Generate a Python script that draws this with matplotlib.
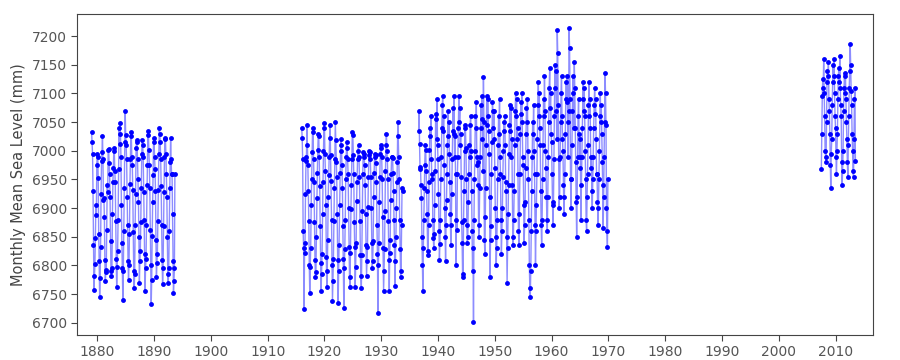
import matplotlib
matplotlib.use("Agg")
import matplotlib.pyplot as plt
import numpy as np

# Monthly mean sea level (mm), four record segments with gaps between them.
seg1_start = 1879.0   # Jan 1879
seg1 = [
    7033, 7015, 6995, 6930, 6835, 6758, 6782, 6802, 6848, 6905, 6888, 6975,
    6995, 6990, 6952, 6855, 6808, 6745, 6778, 6832, 6925, 6982, 6998, 7025,
    6985, 6915, 6918, 6885, 6810, 6772, 6788, 6792, 6862, 6940, 6928, 7002,
    7004, 6978, 6960, 6920, 6842, 6790, 6782, 6795, 6890, 6945, 6970, 7005,
    7000, 6965, 6945, 6878, 6812, 6762, 6798, 6825, 6880, 6968, 7040, 7012,
    7048, 7030, 6990, 6905, 6840, 6795, 6740, 6790, 6860, 6935, 7015, 7070,
    7028, 7010, 6985, 6920, 6870, 6808, 6775, 6800, 6855, 6942, 6985, 7032,
    7025, 6990, 6975, 6932, 6858, 6790, 6760, 6785, 6870, 6925, 7005, 7015,
    7018, 6985, 6950, 6910, 6850, 6770, 6808, 6826, 6875, 6935, 6995, 7018,
    7010, 6990, 6928, 6880, 6820, 6755, 6795, 6812, 6870, 6940, 6975, 7035,
    7028, 7002, 6975, 6935, 6862, 6800, 6733, 6775, 6852, 6910, 6958, 7022,
    7015, 6990, 6968, 6930, 6845, 6780, 6805, 6820, 6878, 6932, 6995, 7040,
    7030, 7015, 6985, 6938, 6870, 6810, 6768, 6795, 6868, 6928, 6990, 7022,
    7020, 6995, 6960, 6920, 6850, 6785, 6770, 6795, 6860, 6935, 6980, 7022,
    6985, 6960, 6960, 6890, 6808, 6752, 6772, 6795, 6960,
]

seg2_start = 1916.0   # Jan 1916
seg2 = [
    7040, 7022, 6985, 6860, 6830, 6724, 6822, 6840, 6925, 6982, 6990, 7045,
    7010, 6975, 6930, 6878, 6800, 6752, 6798, 6830, 6905, 6950, 6998, 7040,
    7032, 6985, 6945, 6875, 6810, 6780, 6788, 6850, 6918, 6962, 7002, 7030,
    7025, 6990, 6938, 6868, 6805, 6755, 6785, 6820, 6890, 6945, 7000, 7040,
    7048, 6995, 6965, 6905, 6815, 6762, 6790, 6845, 6920, 6958, 6990, 7022,
    7045, 6992, 6948, 6880, 6800, 6738, 6772, 6812, 6878, 6935, 6985, 7050,
    7018, 6980, 6955, 6890, 6810, 6735, 6790, 6835, 6905, 6962, 7000, 7020,
    7010, 6975, 6935, 6868, 6812, 6725, 6795, 6828, 6880, 6950, 6990, 7015,
    7005, 6985, 6960, 6900, 6832, 6780, 6762, 6822, 6898, 6940, 6985, 7032,
    7028, 6992, 6960, 6875, 6832, 6762, 6798, 6840, 6912, 6945, 6985, 7000,
    7010, 6990, 6955, 6878, 6818, 6782, 6760, 6818, 6895, 6960, 6998, 6995,
    6990, 6975, 6940, 6890, 6835, 6782, 6808, 6832, 6902, 6955, 6992, 7000,
    6998, 6985, 6955, 6900, 6840, 6795, 6808, 6842, 6920, 6962, 6990, 6995,
    6992, 6978, 6945, 6870, 6820, 6717, 6800, 6840, 6910, 6955, 6995, 7010,
    7005, 6990, 6950, 6885, 6830, 6755, 6790, 6828, 6895, 6965, 7010, 7030,
    7000, 6985, 6950, 6878, 6810, 6755, 6822, 6845, 6915, 6960, 6990, 6990,
    6988, 6962, 6930, 6880, 6835, 6765, 6808, 6850, 6900, 6945, 6980, 7050,
    7025, 6990, 6950, 6880, 6828, 6780, 6790, 6870, 6935, 6930,
]

seg3_start = 1936 + 7 / 12.0   # Aug 1936
seg3 = [
    7035, 7070, 7012, 6968, 6972,
    6940, 6918, 6850, 6800, 6755, 6830, 6880, 6935, 6975, 7010, 7002, 6965,
    6930, 6890, 6825, 6818, 6870, 6945, 7002, 7040, 7025, 7060, 6985, 6950,
    6960, 6880, 6848, 6830, 6855, 6905, 6965, 7065, 7055, 7020, 7090, 7010,
    6985, 6925, 6860, 6810, 6838, 6880, 6950, 6990, 7040, 7080, 7095, 7035,
    7060, 6975, 6900, 6850, 6808, 6870, 6915, 6960, 7010, 7070, 7025, 7050,
    6995, 6945, 6890, 6835, 6870, 6925, 6985, 7035, 7075, 7030, 7095, 6990,
    7025, 6960, 6800, 6880, 6862, 6960, 6990, 7040, 7095, 7050, 7075, 7010,
    7030, 6955, 6875, 6840, 6780, 6785, 6880, 6930, 7000, 7045, 7040, 7005,
    6950, 6870, 6840, 6850, 6910, 6960, 7010, 6990, 7045, 7060, 7000, 6930,
    6860, 6790, 6830, 6702, 6880, 6950, 7000, 7060, 7040, 7085, 6990, 6975,
    6980, 6940, 6850, 6870, 6935, 6990, 7040, 7080, 7055, 7095, 7020, 6965,
    7128, 7050, 6845, 6820, 6885, 6935, 7010, 7095, 7045, 7090, 7060, 7035,
    6995, 6920, 6780, 6845, 6868, 6960, 7015, 7085, 7070, 7040, 7070, 7020,
    6970, 6900, 6850, 6800, 6830, 6880, 6950, 7010, 7060, 7030, 7090, 6990,
    6960, 6880, 6820, 6860, 6900, 6955, 7000, 7050, 7035, 7060, 7010, 6945,
    6930, 6850, 6770, 6830, 6890, 6940, 6995, 7045, 7080, 7035, 7075, 6990,
    7020, 6940, 6850, 6835, 6880, 6930, 7010, 7070, 7100, 7060, 7090, 7020,
    7040, 6960, 6860, 6835, 6890, 6960, 7030, 7085, 7065, 7100, 7050, 6990,
    6975, 6905, 6840, 6870, 6910, 6970, 7030, 7075, 7050, 7090, 7000, 6950,
    6880, 6800, 6760, 6745, 6790, 6860, 6930, 6990, 7050, 7030, 7080, 7000,
    6960, 6870, 6800, 6860, 6905, 6960, 7020, 7080, 7120, 7060, 7100, 7040,
    7010, 6930, 6870, 6835, 6880, 6950, 7010, 7090, 7060, 7130, 7070, 7000,
    6970, 6920, 6880, 6860, 6920, 6990, 7050, 7110, 7145, 7075, 7100, 7030,
    7015, 6960, 6905, 6870, 6910, 6985, 7060, 7150, 7110, 7140, 7070, 7020,
    7210, 7170, 7080, 6985, 6900, 6920, 6990, 7050, 7100, 7130, 7060, 7020,
    7000, 6940, 6890, 6920, 6960, 7030, 7090, 7120, 7085, 7130, 7050, 6990,
    7070, 7214, 7180, 7090, 6950, 6900, 6950, 7010, 7070, 7130, 7100, 7040,
    7155, 7110, 7040, 6980, 6910, 6850, 6920, 6990, 7060, 7090, 7030, 6990,
    7020, 6970, 6880, 6940, 6990, 7040, 7090, 7120, 7070, 7110, 7060, 7000,
    6950, 6880, 6860, 6920, 6960, 7010, 7080, 7120, 7060, 7090, 7040, 6970,
    6990, 6930, 6900, 6950, 6990, 7040, 7080, 7110, 7065, 7090, 7020, 6960,
    6960, 6910, 6870, 6900, 6950, 7000, 7060, 7100, 7050, 7080, 7030, 6980,
    6940, 6865, 6920, 6990, 7050, 7135, 7100, 7045, 6900, 6860, 6832, 6950,
]

seg4_start = 2007 + 6 / 12.0   # Jul 2007
seg4 = [
    6968, 7030, 7095, 7125, 7110, 7160,
    7100, 7060, 7000, 6990, 6980, 7050, 7120, 7140, 7130, 7155, 7090, 7070,
    7030, 6975, 6935, 6995, 7020, 7080, 7120, 7150, 7130, 7160, 7100, 7060,
    7040, 6990, 6960, 7000, 7030, 7090, 7130, 7145, 7120, 7165, 7110, 7080,
    7060, 6980, 6940, 6965, 7000, 7070, 7110, 7135, 7100, 7130, 7090, 7050,
    7020, 6980, 6955, 7010, 7060, 7110, 7140, 7187, 7150, 7105, 7080, 7030,
    7000, 6965, 6955, 7020, 7090, 7110, 6983,
]

segments = [(seg1_start, seg1), (seg2_start, seg2),
            (seg3_start, seg3), (seg4_start, seg4)]

fig = plt.figure(figsize=(9, 3.6), dpi=100)
ax = fig.add_axes([0.086, 0.070, 0.884, 0.890])

for start, vals in segments:
    t = start + np.arange(len(vals)) / 12.0
    ax.plot(t, vals, '-', color='blue', alpha=0.45, lw=1)
    ax.plot(t, vals, 'o', color='blue', ms=3.5, mew=0)

ax.set_xlim(1876.5, 2016.6)
ax.set_ylim(6679, 7238)
ax.set_xticks(np.arange(1880, 2011, 10))
ax.set_yticks(np.arange(6700, 7201, 50))
ax.set_ylabel("Monthly Mean Sea Level (mm)", fontsize=10.5, color='#444444')

for s in ax.spines.values():
    s.set_color('#444444')
ax.tick_params(direction='out', length=4, color='#444444',
               labelcolor='#555555', labelsize=10)

fig.savefig("out.png", dpi=100)
